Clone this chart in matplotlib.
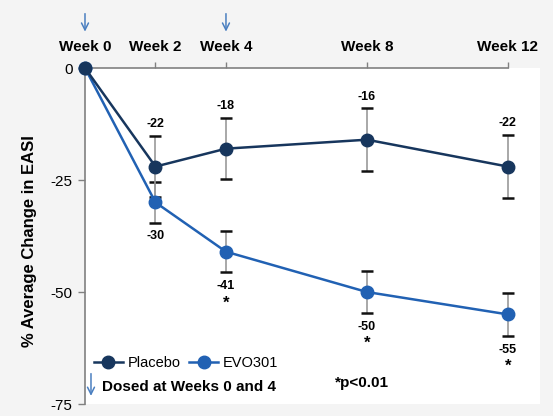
import matplotlib

matplotlib.use("Agg")
import matplotlib.pyplot as plt

plt.rcParams["font.family"] = ["Liberation Sans", "DejaVu Sans"]

weeks = [0, 2, 4, 8, 12]
week_labels = ["Week 0", "Week 2", "Week 4", "Week 8", "Week 12"]
placebo = [0, -22, -18, -16, -22]
placebo_err = [0, 6.8, 6.8, 7.0, 7.0]
evo301 = [0, -30, -41, -50, -55]
evo301_err = [0, 4.5, 4.6, 4.7, 4.8]
significant = [False, False, True, True, True]
dose_weeks = [0, 4]

PLACEBO_COLOR = "#17365d"
EVO_COLOR = "#2161b3"
ARROW_COLOR = "#4a7fc0"
SPINE_COLOR = "#808080"

fig = plt.figure(figsize=(5.53, 4.16), dpi=100, facecolor="#f4f4f4")
ax = fig.add_axes([0.1537, 0.0288, 0.8228, 0.8077])
ax.set_facecolor("white")


def draw_series(values, errors, color, label):
    container = ax.errorbar(
        weeks, values, yerr=errors, color=color, marker="o", markersize=9,
        linewidth=1.8, ecolor="#9a9a9a", elinewidth=1.2, capsize=4,
        capthick=1.8, label=label, zorder=3,
    )
    line, caps, _ = container
    for cap in caps:
        cap.set_markeredgecolor("#111111")
    line.set_clip_on(False)
    return line


evo_line = draw_series(evo301, evo301_err, EVO_COLOR, "EVO301")
placebo_line = draw_series(placebo, placebo_err, PLACEBO_COLOR, "Placebo")

# value labels: placebo above the error bar, EVO301 below with significance star
for x, y, e in zip(weeks[1:], placebo[1:], placebo_err[1:]):
    ax.annotate(f"{y}", (x, y + e), xytext=(0, 8.5), textcoords="offset points",
                ha="center", va="center", fontsize=9, fontweight="bold")
for x, y, e, sig in zip(weeks[1:], evo301[1:], evo301_err[1:], significant[1:]):
    ax.annotate(f"{y}", (x, y - e), xytext=(0, -10), textcoords="offset points",
                ha="center", va="center", fontsize=9, fontweight="bold")
    if sig:
        ax.annotate("*", (x, y - e), xytext=(0, -22), textcoords="offset points",
                    ha="center", va="center", fontsize=12, fontweight="bold")

ax.set_xlim(0, 12.91)
ax.set_ylim(-75, 0)
ax.xaxis.tick_top()
ax.set_xticks(weeks)
ax.set_xticklabels(week_labels, fontsize=11, fontweight="bold")
ax.set_yticks([0, -25, -50, -75])
ax.set_yticklabels(["0", "-25", "-50", "-75"], fontsize=11)
ax.tick_params(axis="x", length=4, width=1, color=SPINE_COLOR, pad=6)
ax.tick_params(axis="y", length=5, width=1, color=SPINE_COLOR, pad=4)
ax.set_ylabel("% Average Change in EASI", fontsize=12, fontweight="bold")
ax.yaxis.set_label_coords(-0.105, 0.485)

for side in ("bottom", "right"):
    ax.spines[side].set_visible(False)
ax.spines["top"].set_bounds(0, 12)
ax.spines["top"].set_color(SPINE_COLOR)
ax.spines["left"].set_color(SPINE_COLOR)
ax.spines["top"].set_linewidth(1.2)
ax.spines["left"].set_linewidth(1.2)

# dosing arrows above the week labels
for w in dose_weeks:
    ax.annotate("", xy=(w, 1.100), xytext=(w, 1.170),
                xycoords=("data", "axes fraction"),
                arrowprops=dict(arrowstyle="->,head_length=0.5,head_width=0.25",
                                color=ARROW_COLOR, lw=1.1),
                annotation_clip=False)

ax.legend(handles=[placebo_line, evo_line], labels=["Placebo", "EVO301"],
          loc="lower left", bbox_to_anchor=(0.0, 0.075), ncol=2, frameon=False,
          fontsize=10.5, handlelength=2.0, columnspacing=0.6,
          handletextpad=0.3, borderaxespad=0.2)

ax.annotate("", xy=(0.17, -73.8), xytext=(0.17, -67.6),
            arrowprops=dict(arrowstyle="->,head_length=0.5,head_width=0.25",
                            color=ARROW_COLOR, lw=1.1))
ax.text(0.48, -71.3, "Dosed at Weeks 0 and 4", fontsize=11, fontweight="bold",
        va="center", ha="left")
ax.text(7.1, -70.3, "*p<0.01", fontsize=11, fontweight="bold",
        va="center", ha="left")

fig.savefig("out.png", dpi=100, facecolor=fig.get_facecolor())
